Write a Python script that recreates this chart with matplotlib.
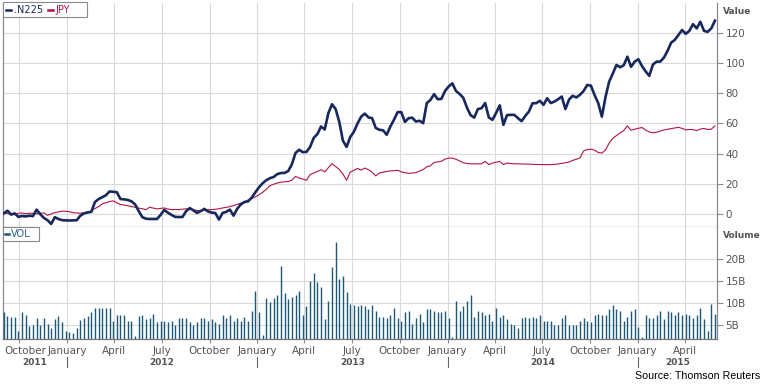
import matplotlib as mpl
mpl.use('Agg')
import matplotlib.pyplot as plt
import matplotlib.dates as mdates
import matplotlib.transforms as mtransforms
from matplotlib.lines import Line2D
from matplotlib.patches import Rectangle
import pandas as pd

# weekly points, Sep 2011 - May 2015 (percent change / volume in billions)
weeks = pd.date_range('2011-09-02', periods=196, freq='7D')

n225 = [0.5, 2.3, -0.3, 0.5, -1.8, -1.2, -1.5, -1.0, -1.3, 3.0,
        0.0, -2.5, -4.0, -6.5, -2.0, -3.2, -4.0, -4.1, -4.2, -4.1,
        -4.0, -1.0, 0.5, 1.2, 1.5, 8.0, 10.0, 11.2, 12.5, 15.0,
        14.8, 14.5, 10.0, 9.8, 9.4, 8.5, 6.5, 2.0, -2.0, -3.0,
        -3.2, -3.2, -3.2, -0.5, 2.8, 1.0, -0.5, -1.8, -1.9, -1.9,
        2.0, 4.0, 2.5, 0.8, 2.0, 3.5, 1.8, 1.0, 0.8, -3.6,
        0.8, 1.5, 3.0, -1.0, 3.5, 6.5, 8.0, 8.5, 11.0, 14.5,
        17.8, 20.5, 22.5, 23.8, 24.6, 26.5, 27.2, 27.3, 28.5, 33.0,
        40.5, 42.6, 41.0, 41.2, 44.5, 50.5, 53.0, 58.0, 56.0, 66.8,
        72.7, 69.5, 61.0, 48.5, 44.5, 51.0, 54.5, 60.0, 64.5, 66.5,
        64.0, 63.5, 57.0, 55.8, 55.5, 52.5, 58.0, 62.5, 67.5, 67.5,
        61.0, 63.5, 63.8, 61.3, 61.8, 60.2, 73.5, 75.6, 79.4, 76.0,
        76.3, 81.5, 84.5, 86.5, 81.5, 79.5, 77.0, 70.5, 65.5, 63.9,
        69.5, 70.1, 73.5, 64.0, 62.4, 67.0, 72.0, 59.1, 65.5, 65.7,
        65.7, 63.5, 61.5, 65.0, 67.9, 73.4, 73.4, 75.0, 72.3, 76.7,
        73.5, 74.5, 76.0, 77.8, 69.5, 75.8, 78.3, 77.2, 79.0, 81.5,
        85.5, 85.0, 78.8, 73.5, 64.5, 77.5, 87.7, 93.0, 98.7, 97.2,
        98.5, 104.2, 97.5, 100.9, 102.5, 98.0, 94.5, 91.5, 99.0, 100.9,
        100.9, 103.5, 108.0, 113.5, 115.3, 118.5, 121.8, 119.3, 121.3, 125.7,
        122.9, 127.3, 121.3, 120.6, 122.9, 128.0]

jpy = [0.8, 0.5, 0.0, -0.3, 0.6, 0.8, 0.3, 0.6, 0.5, 0.2,
       0.6, 0.8, -0.8, 0.2, 1.0, 1.5, 2.0, 1.9, 1.6, 1.0,
       0.8, 0.6, 1.0, 0.8, 2.2, 3.7, 5.0, 6.8, 7.6, 8.3,
       8.8, 7.5, 6.4, 6.0, 5.6, 5.0, 4.6, 4.0, 3.6, 3.0,
       4.6, 4.0, 3.5, 3.8, 4.1, 3.4, 3.0, 3.1, 3.0, 3.3,
       3.5, 3.5, 2.8, 2.5, 2.2, 2.6, 2.9, 3.0, 3.2, 3.6,
       4.1, 4.5, 5.0, 5.7, 6.5, 7.2, 8.2, 9.4, 10.3, 11.5,
       12.8, 14.5, 16.5, 18.8, 19.8, 20.6, 21.2, 21.4, 21.6, 22.5,
       25.0, 23.8, 23.2, 22.4, 26.2, 27.2, 28.2, 29.4, 28.0, 30.7,
       33.4, 31.5, 29.5, 26.5, 22.4, 27.8, 29.0, 30.2, 29.2, 30.5,
       29.4, 27.8, 25.3, 27.2, 27.8, 28.2, 28.6, 28.8, 29.0, 28.0,
       27.4, 27.0, 27.2, 27.5, 28.5, 29.5, 31.4, 32.0, 34.2, 34.6,
       35.0, 36.4, 37.1, 37.1, 36.3, 35.2, 34.0, 33.5, 33.3, 33.3,
       33.3, 33.3, 34.9, 32.8, 33.8, 34.4, 34.9, 32.8, 33.8, 33.5,
       33.3, 33.3, 33.2, 33.1, 33.1, 33.0, 32.9, 32.8, 32.8, 32.8,
       32.8, 32.9, 33.2, 33.6, 34.0, 34.5, 35.6, 36.3, 37.2, 41.8,
       42.8, 43.0, 42.3, 40.8, 40.4, 42.5, 47.0, 50.2, 52.0, 53.8,
       55.3, 58.4, 55.5, 56.2, 56.8, 57.3, 55.6, 54.4, 53.8, 54.2,
       55.0, 55.7, 56.2, 56.6, 57.0, 57.5, 56.7, 55.8, 56.0, 55.9,
       55.3, 56.3, 56.7, 56.0, 56.2, 58.4]

vol = [7.8, 6.9, 6.8, 6.8, 3.6, 7.8, 7.3, 4.6, 5.0, 6.4,
       5.0, 6.6, 5.2, 4.3, 6.2, 6.9, 5.5, 3.6, 3.2, 3.0,
       4.3, 6.1, 6.4, 6.9, 7.8, 8.7, 8.8, 8.9, 8.9, 8.7,
       5.7, 7.3, 7.1, 7.3, 5.9, 5.9, 2.3, 6.9, 7.3, 6.2,
       6.4, 7.5, 5.5, 5.9, 5.9, 5.5, 5.7, 4.8, 6.6, 6.6,
       6.6, 5.5, 4.8, 5.5, 6.4, 6.4, 5.9, 6.3, 5.5, 5.2,
       7.1, 6.4, 7.1, 5.7, 6.4, 5.9, 6.8, 5.9, 8.2, 12.8,
       7.8, 2.5, 11.2, 10.2, 11.0, 11.9, 18.4, 12.2, 10.8, 11.3,
       11.9, 12.6, 7.3, 9.2, 14.9, 16.8, 14.7, 13.6, 6.2, 10.5,
       18.2, 23.9, 15.5, 16.1, 12.4, 9.8, 9.6, 9.2,
       9.6, 9.2, 8.5, 9.6, 8.0, 6.8, 6.8, 6.4, 7.1, 8.8,
       6.4, 5.9, 7.8, 8.0, 5.2, 6.4, 7.5, 5.5, 8.5, 8.5,
       8.0, 7.8, 7.8, 8.0, 6.6, 2.2, 10.3, 8.0, 9.2, 10.3,
       11.7, 6.8, 8.2, 7.8, 7.1, 7.5, 5.7, 8.9, 6.8, 7.3,
       6.2, 5.2, 4.8, 4.1, 6.4, 6.8, 6.6, 6.8, 6.4, 7.3,
       5.9, 5.9, 5.7, 5.0, 4.8, 6.4, 7.3, 5.0, 5.0, 5.0,
       5.7, 6.4, 5.7, 5.5, 7.3, 7.5, 7.3, 7.1, 8.5, 9.4,
       8.5, 8.2, 5.9, 6.8, 8.2, 8.5, 4.5, 2.2, 7.3, 6.6,
       6.6, 7.3, 8.2, 6.2, 8.0, 7.8, 7.1, 7.8, 7.3, 7.5,
       7.1, 6.4, 7.1, 8.7, 6.2, 3.6, 9.8, 7.5]

value_ticks = [0, 20, 40, 60, 80, 100, 120]
vol_ticks = [5, 10, 15, 20]
vol_labels = ['5B', '10B', '15B', '20B']
years = ['2011', '2012', '2013', '2014', '2015']

NAVY = '#17285c'
RED = '#b5143f'
TEAL = '#1d5876'
GRID = '#dadada'
SPINE = '#8a8a8a'
TXT = '#555555'

W, H = 765, 385
fig = plt.figure(figsize=(W / 100, H / 100), dpi=100)


def box(x0, y0, x1, y1):
    return [x0 / W, 1 - y1 / H, (x1 - x0) / W, (y1 - y0) / H]


ax1 = fig.add_axes(box(3, 3, 717, 226.7))
ax2 = fig.add_axes(box(3, 226.7, 717, 339.3), sharex=ax1)

ax1.plot(weeks, jpy, color=RED, lw=0.8, zorder=3)
ax1.plot(weeks, n225, color=NAVY, lw=1.9, zorder=4)
ax2.vlines(weeks, 0, vol, color=TEAL, lw=1.0, zorder=3)

x0 = pd.Timestamp('2011-08-31 12:00')
x1 = pd.Timestamp('2015-06-02')
ax1.set_xlim(x0, x1)
ax1.set_ylim(-8.3, 139.7)
ax2.set_ylim(1.6, 27.5)

for ax in (ax1, ax2):
    ax.xaxis.set_major_locator(mdates.MonthLocator(bymonth=[1, 4, 7, 10]))
    ax.grid(True, color=GRID, lw=0.8, zorder=0)
    ax.set_axisbelow(True)
    ax.yaxis.tick_right()
    ax.tick_params(axis='y', direction='out', length=4, width=0.8, color=SPINE,
                   labelsize=7.5, labelcolor=TXT, pad=2)
    ax.spines['top'].set_visible(False)
    for s in ('left', 'right', 'bottom'):
        ax.spines[s].set_color(SPINE)
        ax.spines[s].set_linewidth(0.9)

ax1.set_yticks(value_ticks)
ax1.tick_params(axis='x', bottom=False, labelbottom=False)
ax2.set_yticks(vol_ticks)
ax2.set_yticklabels(vol_labels)


def month_label(d, pos):
    # first label is drawn by hand so it stays inside the figure
    if pd.Timestamp(mdates.num2date(d)).tz_localize(None) < pd.Timestamp('2011-11-01'):
        return ''
    return mdates.num2date(d).strftime('%B')


ax2.xaxis.set_major_formatter(mpl.ticker.FuncFormatter(month_label))
ax2.tick_params(axis='x', direction='out', length=3, width=0.8, color=SPINE,
                labelsize=7.5, labelcolor=TXT, pad=2)
ax2.spines['bottom'].set_color('#777777')
ax2.text(0.0015, -0.062, 'October', transform=ax2.transAxes, ha='left', va='top',
         fontsize=7.5, color=TXT)

# year row under the month labels
trans = mtransforms.blended_transform_factory(ax2.transData, ax2.transAxes)
bounds = [x0] + [pd.Timestamp(f'{y}-01-01') for y in years[1:]] + [x1]
for i, y in enumerate(years):
    mid = bounds[i] + (bounds[i + 1] - bounds[i]) / 2
    ax2.text(mid, -0.21, y, transform=trans, ha='center', va='center',
             fontsize=6.5, fontweight='bold', color=TXT)
for b in bounds[1:-1]:
    ax2.plot([b, b], [-0.155, -0.245], transform=trans, color='#666666',
             lw=0.8, clip_on=False)

# axis titles on the right
fig.text(723 / W, 1 - 12 / H, 'Value', fontsize=6.5, fontweight='bold',
         color=TXT, va='center', ha='left')
fig.text(723 / W, 1 - 235.5 / H, 'Volume', fontsize=6.5, fontweight='bold',
         color=TXT, va='center', ha='left')

# legend boxes
fig.patches.append(Rectangle((3 / W, 1 - 17 / H), 84 / W, 15 / H, transform=fig.transFigure,
                             fc='white', ec=SPINE, lw=0.8, zorder=5))
fig.lines.append(Line2D([6 / W, 11 / W], [1 - 10 / H] * 2, transform=fig.transFigure,
                        color=NAVY, lw=1.8, zorder=6))
fig.text(14 / W, 1 - 10 / H, '.N225', fontsize=7, color=NAVY, va='center', zorder=6)
fig.lines.append(Line2D([47.5 / W, 53 / W], [1 - 10 / H] * 2, transform=fig.transFigure,
                        color=RED, lw=1.8, zorder=6))
fig.text(55 / W, 1 - 10 / H, 'JPY', fontsize=7, color=RED, va='center', zorder=6)

fig.patches.append(Rectangle((3 / W, 1 - 241 / H), 36 / W, 14 / H, transform=fig.transFigure,
                             fc='white', ec=SPINE, lw=0.8, zorder=5))
fig.lines.append(Line2D([5 / W, 8.5 / W], [1 - 234 / H] * 2, transform=fig.transFigure,
                        color=TEAL, lw=1.8, zorder=6))
fig.text(10.5 / W, 1 - 234 / H, 'VOL', fontsize=7, color='#2a5d8a', va='center', zorder=6)

fig.text(760 / W, 1 - 376 / H, 'Source: Thomson Reuters', fontsize=7.7,
         family='Liberation Sans', ha='right', va='center', color='black')

fig.savefig('out.png', dpi=100)
